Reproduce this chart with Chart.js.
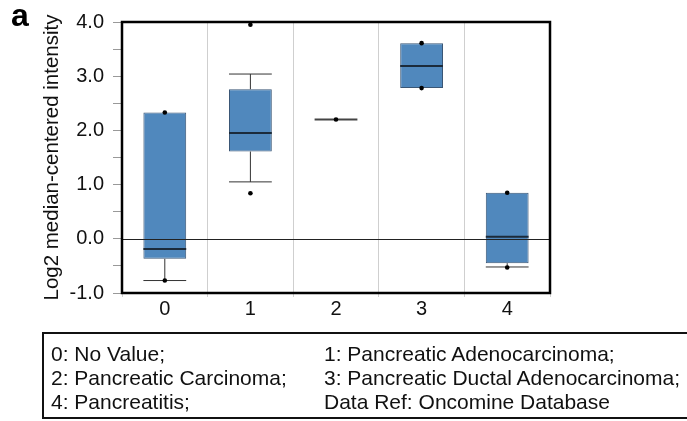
<!DOCTYPE html>
<html lang="en">
<head>
    <meta charset="UTF-8">
    <title>Box plot</title>
    <script src="https://cdn.jsdelivr.net/npm/chart.js"></script>
    <style>
        body {
            margin: 0;
            padding: 0;
            background: #fff;
            font-family: "Liberation Sans", Arial, sans-serif;
            overflow: hidden;
            width: 687px;
            height: 421px;
            position: relative;
        }
        #wrap {
            position: absolute;
            left: 0;
            top: 0;
            width: 687px;
            height: 421px;
        }
        #panel {
            position: absolute;
            left: 11px;
            top: -1px;
            font-size: 32px;
            line-height: 32px;
            font-weight: bold;
            color: #000;
        }
        #legendBox {
            position: absolute;
            left: 42px;
            top: 332px;
            width: 700px;
            height: 83px;
            border: 2px solid #111;
            font-size: 21px;
            line-height: 24px;
            color: #111;
        }
        #legendBox span {
            position: absolute;
            white-space: nowrap;
        }
    </style>
</head>
<body>

    <div id="wrap"><canvas id="grafico"></canvas></div>
    <div id="panel">a</div>
    <div id="legendBox"></div>

    <script>
        // dados
        const categories = ['0', '1', '2', '3', '4'];
        const q1 = [-0.37, 1.61, 2.2, 2.78, -0.45];
        const q3 = [2.33, 2.76, 2.2, 3.61, 0.85];
        const medians = [-0.19, 1.95, 2.2, 3.19, 0.04];
        const whiskerLow = [-0.77, 1.05, 2.2, 2.78, -0.52];
        const whiskerHigh = [2.33, 3.04, 2.2, 3.61, 0.85];
        const pointCats = ['0', '0', '1', '1', '2', '3', '3', '4', '4'];
        const pointValues = [2.33, -0.77, 3.95, 0.84, 2.2, 3.61, 2.78, 0.85, -0.53];
        const yTickValues = [-1, 0, 1, 2, 3, 4];
        const yTickLabels = ['-1.0', '0.0', '1.0', '2.0', '3.0', '4.0'];
        const legendLeft = ['0: No Value;', '2: Pancreatic Carcinoma;', '4: Pancreatitis;'];
        const legendRight = ['1: Pancreatic Adenocarcinoma;', '3: Pancreatic Ductal Adenocarcinoma;', 'Data Ref: Oncomine Database'];

        // legenda em HTML
        const box = document.getElementById('legendBox');
        legendLeft.forEach((t, i) => {
            const s = document.createElement('span');
            s.textContent = t;
            s.style.left = '7px';
            s.style.top = (8 + i * 24) + 'px';
            box.appendChild(s);
        });
        legendRight.forEach((t, i) => {
            const s = document.createElement('span');
            s.textContent = t;
            s.style.left = '280px';
            s.style.top = (8 + i * 24) + 'px';
            box.appendChild(s);
        });

        // bigodes, medianas, linha do zero e moldura
        const boxPlugin = {
            id: 'boxExtras',
            afterDatasetDraw(chart, args) {
                if (args.index !== 0) return;
                const ctx = chart.ctx;
                const y = chart.scales.y;
                const meta = chart.getDatasetMeta(0);
                ctx.save();
                meta.data.forEach((bar, i) => {
                    const half = bar.width / 2;
                    const x = bar.x;
                    ctx.strokeStyle = '#333';
                    ctx.lineWidth = 1;
                    ctx.beginPath();
                    if (whiskerHigh[i] > q3[i]) {
                        ctx.moveTo(x, y.getPixelForValue(q3[i]));
                        ctx.lineTo(x, y.getPixelForValue(whiskerHigh[i]));
                        ctx.moveTo(x - half, y.getPixelForValue(whiskerHigh[i]));
                        ctx.lineTo(x + half, y.getPixelForValue(whiskerHigh[i]));
                    }
                    if (whiskerLow[i] < q1[i]) {
                        ctx.moveTo(x, y.getPixelForValue(q1[i]));
                        ctx.lineTo(x, y.getPixelForValue(whiskerLow[i]));
                        ctx.moveTo(x - half, y.getPixelForValue(whiskerLow[i]));
                        ctx.lineTo(x + half, y.getPixelForValue(whiskerLow[i]));
                    }
                    ctx.stroke();
                    ctx.strokeStyle = q1[i] === q3[i] ? '#444' : '#1b2a3a';
                    ctx.lineWidth = 2;
                    ctx.beginPath();
                    ctx.moveTo(x - half, y.getPixelForValue(medians[i]));
                    ctx.lineTo(x + half, y.getPixelForValue(medians[i]));
                    ctx.stroke();
                });
                ctx.restore();
            },
            afterDatasetsDraw(chart) {
                const ctx = chart.ctx;
                const a = chart.chartArea;
                const y0 = chart.scales.y.getPixelForValue(0);
                ctx.save();
                ctx.strokeStyle = '#222';
                ctx.lineWidth = 1;
                ctx.beginPath();
                ctx.moveTo(a.left, Math.round(y0) + 0.5);
                ctx.lineTo(a.right, Math.round(y0) + 0.5);
                ctx.stroke();
                ctx.strokeStyle = '#000';
                ctx.lineWidth = 2.5;
                ctx.strokeRect(a.left, a.top, a.right - a.left, a.bottom - a.top);
                ctx.restore();
            }
        };

        new Chart(document.getElementById('grafico'), {
            type: 'bar',
            data: {
                labels: categories,
                datasets: [
                    {
                        type: 'bar',
                        order: 2,
                        data: q1.map((v, i) => [v, q3[i]]),
                        backgroundColor: '#5088bd',
                        borderColor: '#3a5675',
                        borderWidth: 1,
                        borderSkipped: false,
                        barPercentage: 0.5,
                        categoryPercentage: 1
                    },
                    {
                        type: 'line',
                        order: 1,
                        data: pointCats.map((c, i) => ({ x: c, y: pointValues[i] })),
                        showLine: false,
                        pointRadius: 2.3,
                        pointBackgroundColor: '#000',
                        pointBorderWidth: 0
                    }
                ]
            },
            options: {
                responsive: true,
                maintainAspectRatio: false,
                animation: false,
                layout: {
                    padding: { left: 36, top: 22, right: 137, bottom: 98 }
                },
                plugins: {
                    legend: { display: false },
                    tooltip: { enabled: false }
                },
                scales: {
                    x: {
                        offset: true,
                        afterFit: (s) => { s.height = 30; },
                        border: { display: false },
                        grid: {
                            offset: true,
                            color: '#cfcfcf',
                            lineWidth: 1,
                            tickLength: 4,
                            tickColor: '#cfcfcf'
                        },
                        ticks: {
                            color: '#111',
                            padding: 0,
                            font: { family: 'Liberation Sans', size: 20 }
                        }
                    },
                    y: {
                        min: -1,
                        max: 4,
                        afterFit: (s) => { s.width = 86; },
                        border: { display: false },
                        grid: {
                            color: 'transparent',
                            tickLength: 9,
                            tickColor: '#999'
                        },
                        ticks: {
                            stepSize: 0.5,
                            autoSkip: false,
                            color: '#111',
                            padding: 9,
                            font: { family: 'Liberation Sans', size: 20 },
                            callback: (value) => {
                                const idx = yTickValues.indexOf(value);
                                return idx >= 0 ? yTickLabels[idx] : '';
                            }
                        },
                        title: {
                            display: true,
                            text: 'Log2 median-centered intensity',
                            color: '#111',
                            font: { family: 'Liberation Sans', size: 20.5 }
                        }
                    }
                }
            },
            plugins: [boxPlugin]
        });
    </script>

</body>
</html>
